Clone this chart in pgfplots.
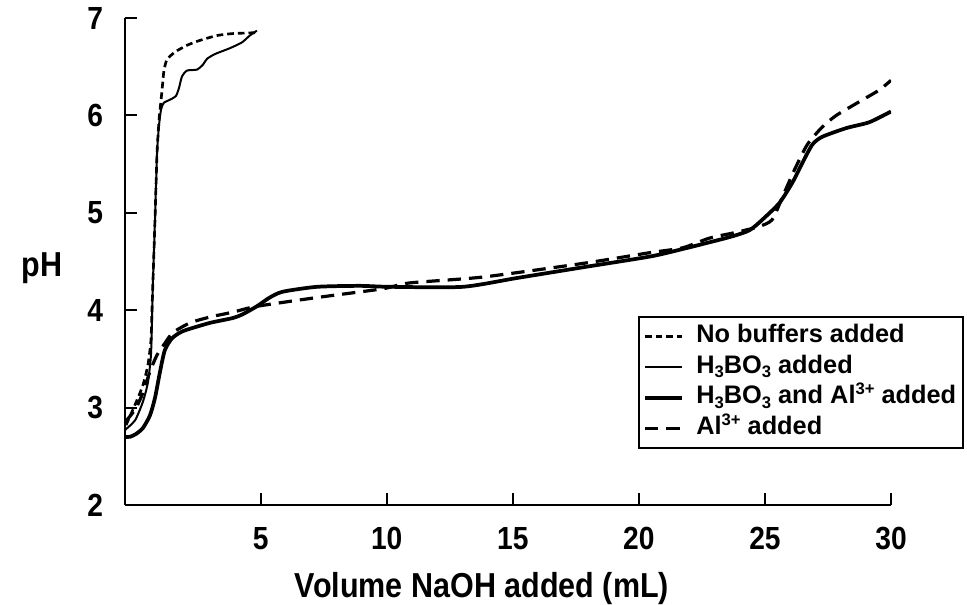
\documentclass[border=0pt]{standalone}
\usepackage{fontspec}
\setmainfont{Liberation Sans}
\newfontfamily\narrowfont{Liberation Sans}[FakeStretch=0.88]
\usepackage{pgfplots}
\pgfplotsset{compat=1.18}
\newcommand{\sbs}[1]{\raisebox{-3.5pt}{\fontsize{12.5}{12}\selectfont #1}}
\newcommand{\sps}[1]{\raisebox{7pt}{\fontsize{12.5}{12}\selectfont #1}}

\begin{document}
\begin{tikzpicture}
\begin{axis}[
    scale only axis, width=574.5pt, height=365.25pt,
    xmin=-0.38, xmax=30, ymin=2, ymax=7,
    axis x line*=bottom, axis y line*=left,
    axis line style={line width=2pt},
    xtick={5,10,...,30}, ytick={2,3,...,7},
    tick align=inside, major tick length=9pt,
    tick style={line width=1.5pt, black},
    every tick label/.append style={font=\narrowfont\fontsize{24}{28}\selectfont\bfseries},
    /pgf/number format/assume math mode=true,
    xticklabel style={yshift=-13pt},
    yticklabel style={xshift=-13pt},
    xlabel={Volume NaOH added (mL)},
    ylabel={pH},
    label style={font=\narrowfont\fontsize{26}{30}\selectfont\bfseries},
    xlabel style={at={(axis description cs:0.466,-0.172)}, anchor=center},
    ylabel style={at={(axis description cs:-0.108,0.487)}, rotate=-90, anchor=center},
    legend style={at={(axis description cs:0.670,0.388)}, anchor=north west,
        draw=black, line width=1.5pt, inner sep=3pt, column sep=7pt,
        font=\fontsize{19}{22}\selectfont\bfseries,
        nodes={inner sep=2pt, text height=14pt, text depth=5pt}},
    legend cell align=left,
    legend image code/.code={\draw[#1] (0pt,0pt) -- (28pt,0pt);},
]
% No buffers added
\addplot[black, line width=2pt, dash pattern=on 5pt off 3pt, smooth, tension=0.4] coordinates {
  (-0.34,2.82) (0.02,3.03) (0.33,3.23) (0.53,3.44) (0.65,3.69) (0.69,4.00)
  (0.73,4.31) (0.81,4.93) (0.89,5.61) (0.97,5.95) (1.01,6.06) (1.09,6.26)
  (1.16,6.45) (1.28,6.57) (1.60,6.65) (2.08,6.72) (2.59,6.77) (3.27,6.82)
  (3.90,6.84) (4.89,6.85)
};
% H3BO3 added
\addplot[black, line width=1.5pt, smooth, tension=0.4] coordinates {
  (-0.38,2.77) (0.02,2.87) (0.33,3.06) (0.53,3.26) (0.65,3.54) (0.69,3.90)
  (0.73,4.31) (0.81,4.93) (0.89,5.61) (0.97,5.90) (1.05,6.06) (1.16,6.13)
  (1.40,6.16) (1.64,6.20) (1.76,6.28) (1.88,6.40) (2.08,6.46) (2.47,6.47)
  (2.71,6.52) (2.87,6.58) (3.19,6.63) (3.78,6.69) (4.26,6.75) (4.57,6.82)
  (4.85,6.87)
};
% H3BO3 and Al3+ added
\addplot[black, line width=2.8pt, smooth, tension=0.4] coordinates {
  (-0.38,2.70) (-0.18,2.70) (0.06,2.73) (0.33,2.79) (0.61,2.92) (0.81,3.10)
  (1.01,3.37) (1.20,3.59) (1.48,3.71) (1.80,3.77) (2.08,3.80) (2.99,3.87)
  (3.90,3.92) (4.30,3.96) (4.85,4.04) (5.36,4.13) (5.88,4.19) (7.23,4.24)
  (8.93,4.25) (10.12,4.24) (13.01,4.24) (15.15,4.33) (17.77,4.44) (20.42,4.55)
  (21.61,4.62) (23.59,4.75) (24.38,4.82) (24.90,4.93) (25.57,5.10) (26.09,5.31)
  (26.48,5.51) (26.88,5.70) (27.27,5.78) (28.23,5.87) (29.14,5.93) (30.00,6.04)
};
% Al3+ added
\addplot[black, line width=2.4pt, dash pattern=on 10pt off 6pt, smooth, tension=0.4] coordinates {
  (-0.38,2.85) (0.02,2.98) (0.33,3.15) (0.61,3.37) (0.89,3.54) (1.20,3.66)
  (1.52,3.77) (2.20,3.87) (2.99,3.93) (3.90,3.98) (4.85,4.04) (7.23,4.13)
  (9.84,4.22) (10.91,4.28) (13.80,4.34) (17.77,4.48) (20.42,4.59) (21.73,4.64)
  (22.80,4.74) (23.87,4.80) (24.78,4.86) (25.29,4.93) (25.69,5.16) (26.17,5.44)
  (26.68,5.70) (27.27,5.88) (27.83,6.00) (28.74,6.14) (29.53,6.26) (30.00,6.36)
};
\legend{No buffers added,
  H\sbs{3}BO\sbs{3} added,
  H\sbs{3}BO\sbs{3} and Al\sps{3+} added,
  Al\sps{3+} added}
\end{axis}
\pgfresetboundingbox
\useasboundingbox ([shift={(-93.75pt,-74.25pt)}]current axis.south west)
  rectangle ([shift={(631.5pt,378.75pt)}]current axis.south west);
\end{tikzpicture}
\end{document}
